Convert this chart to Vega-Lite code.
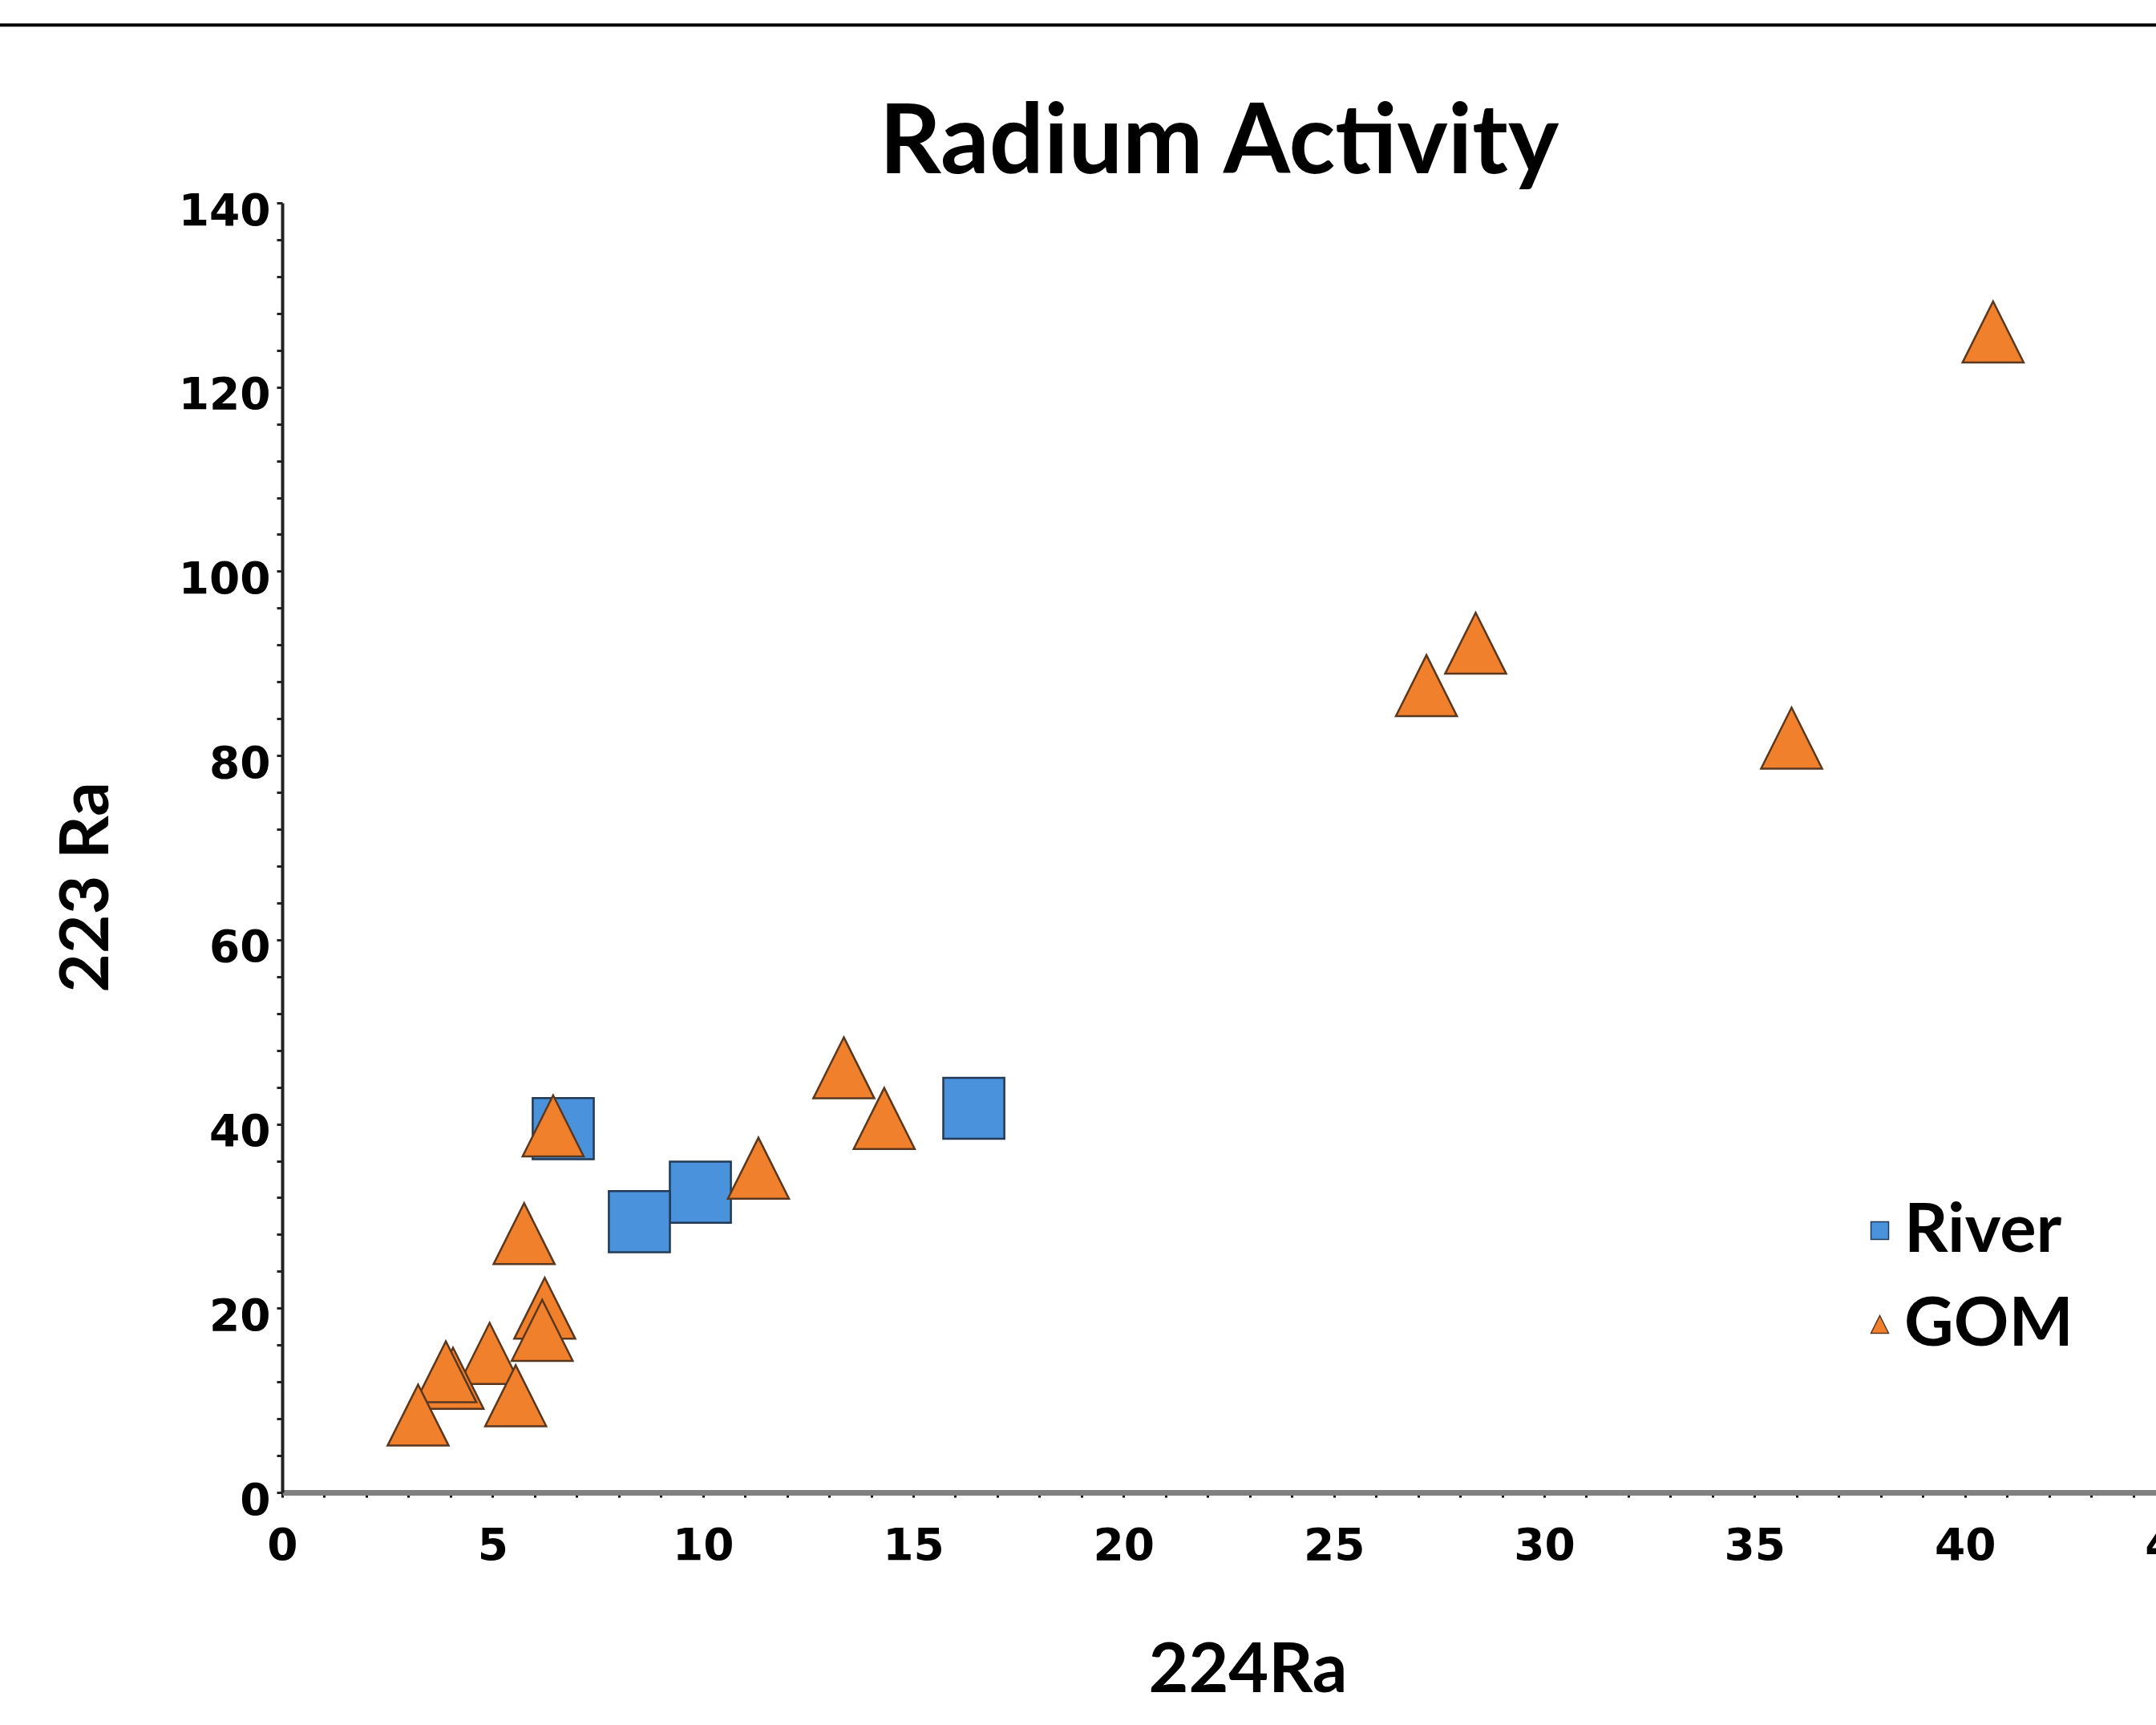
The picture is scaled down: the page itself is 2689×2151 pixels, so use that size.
{
  "$schema": "https://vega.github.io/schema/vega-lite/v6.json",
  "autosize": "none",
  "width": 2337,
  "height": 1608,
  "padding": {"left": 352, "top": 253, "right": 0, "bottom": 290},
  "background": "white",
  "config": {"view": {"stroke": null}, "font": "Lato"},
  "title": {
    "text": "Radium Activity",
    "font": "Lato",
    "fontSize": 120,
    "fontWeight": "bold",
    "color": "black",
    "anchor": "middle",
    "frame": "group",
    "baseline": "alphabetic",
    "offset": 0,
    "dy": 307
  },
  "layer": [
    {
      "data": {
        "values": [
          {"Series": "River", "Ra224": 6.68, "Ra223": 39.5},
          {"Series": "River", "Ra224": 9.94, "Ra223": 32.6},
          {"Series": "River", "Ra224": 8.49, "Ra223": 29.4},
          {"Series": "River", "Ra224": 16.44, "Ra223": 41.7},
          {"Series": "GOM", "Ra224": 40.67, "Ra223": 126.0},
          {"Series": "GOM", "Ra224": 28.37, "Ra223": 92.2},
          {"Series": "GOM", "Ra224": 27.2, "Ra223": 87.6},
          {"Series": "GOM", "Ra224": 35.88, "Ra223": 81.9},
          {"Series": "GOM", "Ra224": 13.35, "Ra223": 46.1},
          {"Series": "GOM", "Ra224": 14.31, "Ra223": 40.6},
          {"Series": "GOM", "Ra224": 11.32, "Ra223": 35.2},
          {"Series": "GOM", "Ra224": 6.44, "Ra223": 39.8},
          {"Series": "GOM", "Ra224": 5.75, "Ra223": 28.1},
          {"Series": "GOM", "Ra224": 6.24, "Ra223": 20.0},
          {"Series": "GOM", "Ra224": 6.18, "Ra223": 17.6},
          {"Series": "GOM", "Ra224": 4.93, "Ra223": 15.1},
          {"Series": "GOM", "Ra224": 4.06, "Ra223": 12.4},
          {"Series": "GOM", "Ra224": 3.89, "Ra223": 13.1},
          {"Series": "GOM", "Ra224": 5.55, "Ra223": 10.5},
          {"Series": "GOM", "Ra224": 3.23, "Ra223": 8.4}
        ]
      },
      "mark": {"type": "point", "filled": true, "size": 5800, "strokeWidth": 2.5, "opacity": 1, "fillOpacity": 1, "strokeOpacity": 1},
      "encoding": {
        "x": {
          "field": "Ra224",
          "type": "quantitative",
          "scale": {"domain": [0, 45], "range": [0, 2361], "nice": false, "zero": false},
          "axis": {
            "title": "224Ra",
            "values": [0,1,2,3,4,5,6,7,8,9,10,11,12,13,14,15,16,17,18,19,20,21,22,23,24,25,26,27,28,29,30,31,32,33,34,35,36,37,38,39,40,41,42,43,44,45],
            "labelExpr": "datum.value % 5 === 0 ? datum.label : ''",
            "labelFont": "DejaVu Sans",
            "labelFontSize": 55,
            "labelFontWeight": "bold",
            "labelColor": "black",
            "labelPadding": 34,
            "labelFlush": false,
            "labelOverlap": false,
            "labelBound": false,
            "tickSize": 6,
            "tickWidth": 3,
            "tickColor": "black",
            "domainColor": "#808080",
            "domainWidth": 7,
            "grid": false,
            "titleFont": "Lato",
            "titleFontSize": 86,
            "titleFontWeight": "bold",
            "titleColor": "black",
            "titleX": 1204,
            "titleY": 248,
            "titleAlign": "center",
            "titleBaseline": "alphabetic"
          }
        },
        "y": {
          "field": "Ra223",
          "type": "quantitative",
          "scale": {"domain": [0, 140], "nice": false, "zero": false},
          "axis": {
            "title": "223 Ra",
            "values": [0,4,8,12,16,20,24,28,32,36,40,44,48,52,56,60,64,68,72,76,80,84,88,92,96,100,104,108,112,116,120,124,128,132,136,140],
            "labelExpr": "datum.value % 20 === 0 ? datum.label : ''",
            "labelFont": "DejaVu Sans",
            "labelFontSize": 55,
            "labelFontWeight": "bold",
            "labelColor": "black",
            "labelPadding": 8,
            "labelOffset": 10,
            "labelFlush": false,
            "labelOverlap": false,
            "labelBound": false,
            "tickSize": 7,
            "tickWidth": 3,
            "tickColor": "#222222",
            "domainColor": "#222222",
            "domainWidth": 4,
            "grid": false,
            "titleFont": "Lato",
            "titleFontSize": 84,
            "titleFontWeight": "bold",
            "titleColor": "black",
            "titleX": -218,
            "titleY": 853,
            "titleAngle": 270,
            "titleAlign": "center",
            "titleBaseline": "alphabetic"
          }
        },
        "fill": {
          "field": "Series",
          "type": "nominal",
          "scale": {"domain": ["River", "GOM"], "range": ["#4a92dc", "#f0802c"]},
          "legend": {"orient": "none", "legendX": 1950, "legendY": 1239, "title": null, "labelFont": "Lato", "labelFontSize": 85, "labelFontWeight": "bold", "labelColor": "black", "symbolSize": 484, "symbolStrokeWidth": 1.5, "rowPadding": 31, "labelOffset": -12, "padding": 0, "labelLimit": 0}
        },
        "stroke": {
          "field": "Series",
          "type": "nominal",
          "scale": {"domain": ["River", "GOM"], "range": ["#223a55", "#5a3820"]},
          "legend": {"orient": "none", "legendX": 1950, "legendY": 1239, "title": null, "labelFont": "Lato", "labelFontSize": 85, "labelFontWeight": "bold", "labelColor": "black", "symbolSize": 484, "symbolStrokeWidth": 1.5, "rowPadding": 31, "labelOffset": -12, "padding": 0, "labelLimit": 0}
        },
        "shape": {
          "field": "Series",
          "type": "nominal",
          "scale": {"domain": ["River", "GOM"], "range": ["square", "M0,-1L1,1L-1,1Z"]},
          "legend": {"orient": "none", "legendX": 1950, "legendY": 1239, "title": null, "labelFont": "Lato", "labelFontSize": 85, "labelFontWeight": "bold", "labelColor": "black", "symbolSize": 484, "symbolStrokeWidth": 1.5, "rowPadding": 31, "labelOffset": -12, "padding": 0, "labelLimit": 0}
        }
      }
    },
    {
      "data": {"values": [{}]},
      "mark": {"type": "rule", "color": "black", "strokeWidth": 4, "clip": false},
      "encoding": {
        "x": {"datum": -7, "type": "quantitative", "scale": {"domain": [0, 45], "range": [0, 2361], "nice": false, "zero": false}},
        "x2": {"datum": 46},
        "y": {"datum": 159.3, "type": "quantitative", "scale": {"domain": [0, 140], "nice": false, "zero": false}}
      }
    }
  ]
}
